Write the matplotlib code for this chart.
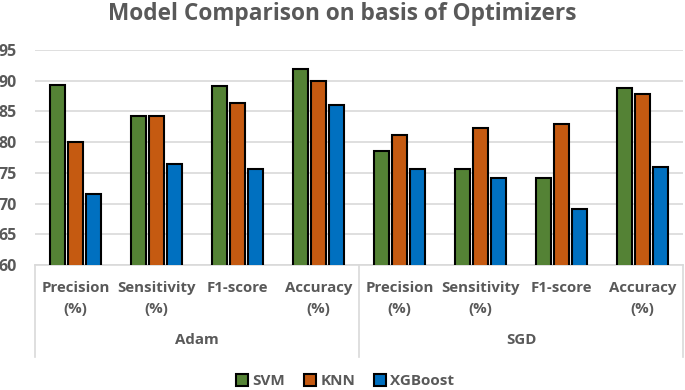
import matplotlib
matplotlib.use("Agg")
import matplotlib.pyplot as plt
from matplotlib.lines import Line2D
from matplotlib.patches import Patch
import numpy as np

categories = ["Precision\n(%)", "Sensitivity\n(%)", "F1-score", "Accuracy\n(%)",
              "Precision\n(%)", "Sensitivity\n(%)", "F1-score", "Accuracy\n(%)"]
groups = ["Adam", "SGD"]
svm = [89.3, 84.2, 89.1, 91.9, 78.6, 75.7, 74.2, 88.8]
knn = [80.1, 84.3, 86.3, 90.0, 81.2, 82.3, 83.0, 87.9]
xgb = [71.6, 76.4, 75.7, 86.0, 75.7, 74.1, 69.1, 76.0]
series_names = ["SVM", "KNN", "XGBoost"]
colors = ["#548235", "#C55A11", "#0070C0"]

gray = "#595959"
plt.rcParams['font.family'] = ['Open Sans', 'DejaVu Sans']

fig = plt.figure(figsize=(6.85, 3.9), dpi=100)
W, H = 685, 390
ax = fig.add_axes([35 / W, (H - 265) / H, (683 - 35) / W, (265 - 50) / H])

x = np.arange(len(categories))
bw = 0.185
step = 0.222
for i, (vals, c, name) in enumerate(zip([svm, knn, xgb], colors, series_names)):
    ax.bar(x + (i - 1) * step, vals, width=bw, color=c, edgecolor="black",
           linewidth=1.5, label=name, zorder=3)

ax.set_xlim(-0.5, len(categories) - 0.5)
ax.set_ylim(60, 95)
ax.set_yticks(np.arange(60, 96, 5))
ax.yaxis.grid(True, color="#D9D9D9", linewidth=1.2, zorder=0)
ax.set_axisbelow(True)
for s in ["top", "right", "left"]:
    ax.spines[s].set_visible(False)
ax.spines["bottom"].set_color("#D9D9D9")
ax.spines["bottom"].set_linewidth(1.2)
ax.tick_params(axis="y", length=0, labelsize=11.5, labelcolor=gray, pad=13)
for t in ax.get_yticklabels():
    t.set_fontweight("bold")
ax.set_xticks([])

# category labels
trans = ax.get_xaxis_transform()
for xi, lab in zip(x, categories):
    ax.text(xi, -0.075, lab, transform=trans, ha="center", va="top",
            fontsize=10.8, fontweight="bold", color=gray, linespacing=1.6)
for gi, g in enumerate(groups):
    ax.text(1.5 + 4 * gi, -0.35, g, transform=trans, ha="center", va="center",
            fontsize=10.8, fontweight="bold", color=gray)

# divider lines of the multi-level axis
for xv in [-0.5, 3.5, 7.5]:
    ax.add_line(Line2D([xv, xv], [0, -0.43], transform=trans, color="#D9D9D9",
                       linewidth=1.2, clip_on=False))

fig.text(0.5, (H - 14) / H, "Model Comparison on basis of Optimizers", ha="center",
         va="center", fontsize=16.3, fontweight="bold", color=gray)

handles = [Patch(facecolor=c, edgecolor="black", linewidth=1.5) for c in colors]
leg = fig.legend(handles, series_names, loc="center", bbox_to_anchor=(345 / W, (H - 381) / H),
                 ncol=3, frameon=False, handlelength=0.8, handleheight=0.8,
                 handletextpad=0.3, columnspacing=1.2,
                 prop={"weight": "bold", "size": 11})
for t in leg.get_texts():
    t.set_color(gray)

fig.savefig("out.png", dpi=100)
